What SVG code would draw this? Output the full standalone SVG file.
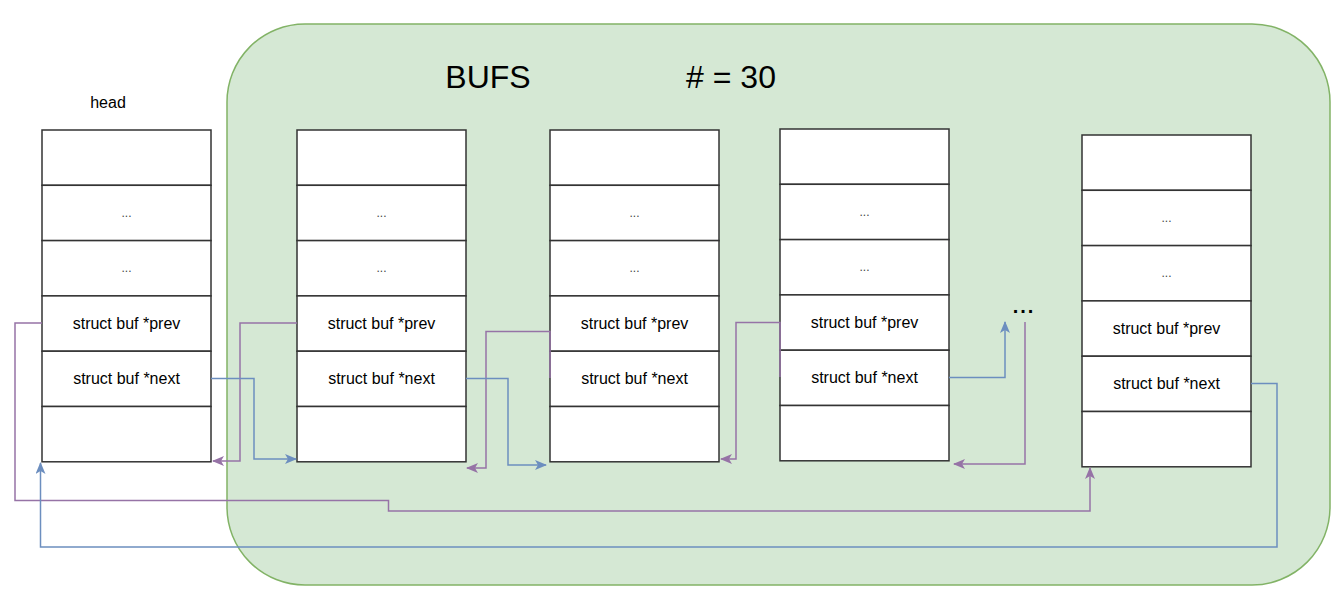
<svg xmlns="http://www.w3.org/2000/svg" width="1340" height="608" viewBox="0 0 1340 608">
<defs>
<style>
.cell{fill:#fff;stroke:#333;stroke-width:1.5}
.lbl{font-family:"Liberation Sans",Arial,sans-serif;font-size:16px;fill:#000;text-anchor:middle}
.dots{font-family:"Liberation Sans",Arial,sans-serif;font-size:12px;fill:#444;text-anchor:middle}
.big{font-family:"Liberation Sans",Arial,sans-serif;font-size:32px;fill:#000;text-anchor:middle}
.prev{fill:none;stroke:#9673a6;stroke-width:1.5}
.next{fill:none;stroke:#6c8ebf;stroke-width:1.5}
</style>
<marker id="ap" viewBox="0 0 12 10" refX="11" refY="5" markerWidth="12" markerHeight="10" markerUnits="userSpaceOnUse" orient="auto"><path d="M0,0 L12,5 L0,10 L3,5 Z" fill="#9673a6"/></marker>
<marker id="an" viewBox="0 0 12 10" refX="11" refY="5" markerWidth="12" markerHeight="10" markerUnits="userSpaceOnUse" orient="auto"><path d="M0,0 L12,5 L0,10 L3,5 Z" fill="#6c8ebf"/></marker>
<g id="cellrows">
<g id="nodeproto">
<rect class="cell" x="0" y="0" width="169" height="55.3"/>
<rect class="cell" x="0" y="55.3" width="169" height="55.3"/>
<rect class="cell" x="0" y="110.6" width="169" height="55.3"/>
<rect class="cell" x="0" y="165.9" width="169" height="55.3"/>
<rect class="cell" x="0" y="221.2" width="169" height="55.3"/>
<rect class="cell" x="0" y="276.5" width="169" height="55.3"/>
<text class="dots" x="84.5" y="87">...</text>
<text class="dots" x="84.5" y="142">...</text>
<text class="lbl" x="84.5" y="199">struct buf *prev</text>
<text class="lbl" x="84.5" y="254">struct buf *next</text>
</g>
</g>
</defs>
<g id="container">
<rect x="227" y="24" width="1103" height="561" rx="78" ry="78" fill="#d5e8d4" stroke="#82b366" stroke-width="1.5"/>
<text class="big" x="488" y="88">BUFS</text>
<text class="big" x="731" y="88"># = 30</text>
</g>
<g id="head-label"><text class="lbl" x="108" y="108">head</text></g>
<g id="node-head"><use href="#nodeproto" x="42" y="130"/></g>
<g id="node-buf1"><use href="#nodeproto" x="297" y="130"/></g>
<g id="node-buf2"><use href="#nodeproto" x="550" y="130"/></g>
<g id="node-buf3"><use href="#nodeproto" x="780" y="129"/></g>
<g id="node-buf30"><use href="#nodeproto" x="1082" y="135"/></g>
<g id="ellipsis"><text x="1024" y="313" style="font-family:'Liberation Sans',Arial,sans-serif;font-size:20px;font-weight:bold;letter-spacing:2px;text-anchor:middle">...</text></g>
<g id="connectors">
<polyline class="prev" points="42,323 15,323 15,500.5 388.5,500.5 388.5,511 1090,511 1090,468" marker-end="url(#ap)"/>
<polyline class="prev" points="297,323 240,323 240,461 213,461" marker-end="url(#ap)"/>
<polyline class="prev" points="550,378 550,331.5 486,331.5 486,468 467,468" marker-end="url(#ap)"/>
<polyline class="prev" points="780,377 780,322.5 736,322.5 736,459 721,459" marker-end="url(#ap)"/>
<polyline class="prev" points="1025,322 1025,464 954,464" marker-end="url(#ap)"/>
<polyline class="next" points="211,378.5 254,378.5 254,459 296,459" marker-end="url(#an)"/>
<polyline class="next" points="466,378.5 508,378.5 508,465 546,465" marker-end="url(#an)"/>
<polyline class="next" points="949,377.5 1005,377.5 1005,322" marker-end="url(#an)"/>
<polyline class="next" points="1251,383.5 1277,383.5 1277,547 40.5,547 40.5,463" marker-end="url(#an)"/>
</g>
</svg>
